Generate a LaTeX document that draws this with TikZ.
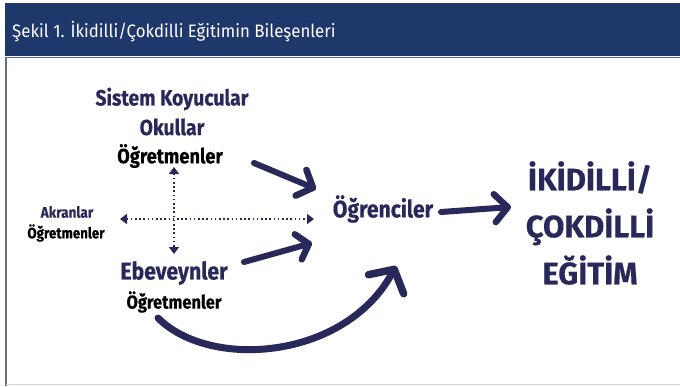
\documentclass[tikz,border=0pt]{standalone}
\usepackage{fontspec}
\setmainfont{Fira Sans}[FakeStretch=0.88,BoldFeatures={FakeBold=0.4}]
\newfontfamily\bigfont{Fira Sans}[FakeStretch=1.0,BoldFeatures={FakeBold=0.4}]
\newfontfamily\headfont{Fira Sans}[FakeStretch=0.935]
\usetikzlibrary{arrows.meta}
\definecolor{headnavy}{HTML}{1F386B}
\definecolor{ink}{HTML}{29285B}
\definecolor{framecol}{HTML}{5E6E9C}
\definecolor{basecol}{HTML}{D6D6D6}
\begin{document}
\begin{tikzpicture}[x=1pt,y=-1pt,
  txt/.style={inner sep=0pt,anchor=center,font=\bfseries},
  navytxt/.style={txt,text=ink},
  blacktxt/.style={txt,text=black},
  bigarrow/.style={draw=ink,line width=6pt,line cap=round,
    -{Straight Barb[length=13pt,width=28pt,line width=6.5pt,round]}},
  dotarrow/.style={draw=ink,line width=1.7pt,dash pattern=on 1.7pt off 2.5pt,
    {Triangle[length=7pt,width=10pt]}-{Triangle[length=7pt,width=10pt]}}
]
\useasboundingbox (0,0) rectangle (680,386);
\fill[white] (0,0) rectangle (680,386);
% header band
\fill[headnavy] (5,3) rectangle (680,55.5);
\draw[framecol,line width=1pt] (5,57.3) -- (680,57.3);
\draw[framecol,line width=2pt] (6,57) -- (6,386);
\draw[basecol,line width=1pt] (6,384.5) -- (680,384.5);
\node[inner sep=0pt,anchor=west,text=white,font=\headfont\fontsize{18}{20}\selectfont] (title) at (12,32) {Şekil 1. İkidilli/Çokdilli Eğitimin Bileşenleri};

% left group texts
\node[navytxt,font=\bfseries\fontsize{22}{25}\selectfont] (sistem) at (172,99) {Sistem Koyucular};
\node[navytxt,font=\bfseries\fontsize{22}{25}\selectfont] (okul) at (172,127) {Okullar};
\node[blacktxt,font=\bfseries\fontsize{20.8}{23}\selectfont] (ogrt1) at (170,156) {Öğretmenler};
\node[navytxt,font=\bfseries\fontsize{15.4}{18}\selectfont] (akran) at (67,212) {Akranlar};
\node[blacktxt,font=\bfseries\fontsize{15.2}{17}\selectfont] (ogrt2) at (66,233) {Öğretmenler};
\node[navytxt,font=\bfseries\fontsize{24.1}{27}\selectfont] (ebev) at (174,273) {Ebeveynler};
\node[blacktxt,font=\bfseries\fontsize{18.7}{21}\selectfont] (ogrt3) at (174,302) {Öğretmenler};
\node[navytxt,font=\bfseries\fontsize{24}{27}\selectfont] (ogrenci) at (383,209) {Öğrenciler};
\node[navytxt,font=\bigfont\bfseries\fontsize{31}{47}\selectfont,align=center] (egitim) at (590,223) {İKİDİLLİ/\\ÇOKDİLLİ\\EĞİTİM};

% dotted cross
\coordinate (vtop) at (174,167);
\coordinate (vbot) at (174,254);
\coordinate (hleft) at (120,219);
\coordinate (hright) at (314,219);
\draw[dotarrow] (vtop) -- (vbot);
\draw[dotarrow] (hleft) -- (hright);

% thick arrows
\coordinate (a1s) at (254,163);
\coordinate (a1e) at (316,189);
\coordinate (a2s) at (244,262);
\coordinate (a2e) at (312,243);
\coordinate (a3s) at (158,318);
\coordinate (a3e) at (396,266);
\coordinate (a4s) at (441,212);
\coordinate (a4e) at (511,207);
\draw[bigarrow] (a1s) -- (a1e);
\draw[bigarrow,-{Straight Barb[length=11pt,width=26pt,line width=6.5pt,round]}] (a2s) -- (a2e);
\draw[bigarrow,line width=7pt,-{Straight Barb[length=17pt,width=40pt,line width=7.5pt,round]}] (a3s) .. controls (210,370) and (345,360) .. (a3e);
\draw[bigarrow] (a4s) -- (a4e);
\end{tikzpicture}
\end{document}
